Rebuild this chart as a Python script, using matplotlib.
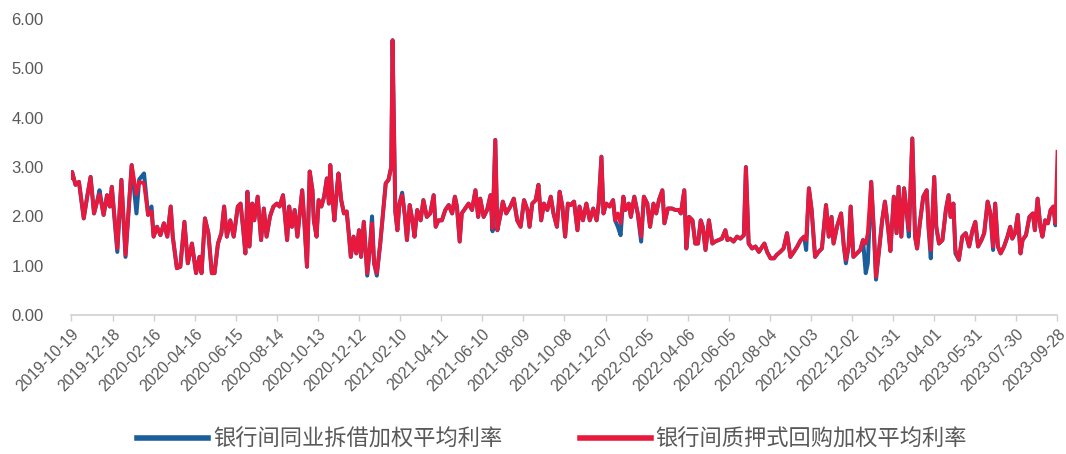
import numpy as np
import pandas as pd
import matplotlib
matplotlib.use("Agg")
import matplotlib.pyplot as plt
import matplotlib.dates as mdates

plt.rcParams['font.family'] = ['Liberation Sans', 'Noto Sans CJK SC', 'DejaVu Sans']

start_date = "2019-10-19"
end_date = "2023-09-28"

# days since start_date at turning points
day_offset = [
    0, 1, 6, 11, 18, 23, 28, 33, 38, 41,
    47, 52, 56, 59, 67, 73, 79, 88, 95, 99,
    106, 112, 117, 120, 125, 130, 135, 140, 145, 148,
    154, 159, 165, 170, 176, 182, 187, 190, 195, 200,
    205, 209, 214, 219, 223, 227, 232, 237, 243, 247,
    251, 254, 257, 260, 264, 267, 272, 277, 281, 285,
    290, 295, 300, 304, 309, 312, 315, 318, 322, 326,
    330, 333, 337, 340, 344, 348, 352, 354, 358, 361,
    365, 369, 373, 376, 378, 381, 384, 388, 390, 394,
    398, 402, 405, 408, 412, 416, 420, 423, 427, 432,
    436, 439, 442, 446, 451, 459, 463, 467, 469, 473,
    476, 479, 483, 487, 490, 494, 498, 501, 505, 510,
    514, 519, 524, 529, 532, 536, 541, 546, 551, 556,
    560, 563, 567, 570, 575, 580, 585, 590, 594, 597,
    602, 607, 612, 615, 619, 622, 627, 630, 635, 641,
    646, 651, 656, 661, 666, 669, 673, 678, 682, 686,
    690, 695, 700, 704, 709, 713, 717, 721, 725, 729,
    734, 739, 742, 747, 752, 757, 762, 767, 770, 774,
    777, 781, 786, 791, 794, 798, 802, 806, 809, 814,
    817, 822, 827, 832, 836, 841, 845, 850, 854, 858,
    863, 866, 871, 877, 882, 887, 890, 895, 898, 902,
    907, 911, 915, 919, 922, 926, 931, 936, 940, 945,
    950, 955, 958, 962, 967, 972, 977, 982, 985, 989,
    994, 999, 1004, 1009, 1012, 1016, 1021, 1026, 1030, 1035,
    1040, 1045, 1050, 1055, 1060, 1065, 1070, 1073, 1077, 1081,
    1086, 1091, 1096, 1102, 1106, 1110, 1113, 1118, 1124, 1128,
    1131, 1135, 1138, 1142, 1147, 1152, 1156, 1160, 1163, 1168,
    1172, 1175, 1180, 1184, 1188, 1193, 1196, 1201, 1205, 1208,
    1212, 1216, 1220, 1223, 1228, 1232, 1235, 1239, 1244, 1249,
    1252, 1255, 1260, 1263, 1267, 1272, 1277, 1281, 1284, 1288,
    1291, 1296, 1301, 1306, 1311, 1316, 1320, 1324, 1329, 1333,
    1338, 1342, 1346, 1349, 1353, 1357, 1362, 1367, 1371, 1374,
    1378, 1382, 1386, 1389, 1394, 1399, 1404, 1407, 1411, 1415,
    1418, 1422, 1426, 1430, 1434, 1437, 1440,
]

# 银行间质押式回购加权平均利率 (red)
repo_rate = [
    2.78, 2.90, 2.64, 2.70, 1.96, 2.40, 2.80, 2.06, 2.33, 2.45,
    2.03, 2.43, 2.20, 2.60, 1.35, 2.74, 1.22, 3.04, 2.45, 2.70,
    2.67, 2.03, 2.10, 1.59, 1.79, 1.62, 1.86, 1.59, 2.20, 1.59,
    0.95, 0.98, 1.89, 1.05, 1.45, 0.85, 1.18, 0.85, 1.96, 1.66,
    0.85, 0.85, 1.45, 1.66, 2.20, 1.59, 1.92, 1.59, 2.20, 2.26,
    1.72, 1.25, 2.50, 1.39, 2.26, 1.92, 2.40, 1.52, 2.16, 1.59,
    2.00, 2.20, 2.26, 2.20, 2.43, 1.99, 1.52, 2.20, 1.79, 2.13,
    1.59, 1.99, 2.53, 1.92, 0.98, 2.91, 2.53, 1.92, 1.59, 2.33,
    2.20, 2.40, 2.77, 2.26, 3.04, 2.40, 1.92, 2.60, 2.87, 2.33,
    2.06, 2.10, 1.66, 1.18, 1.59, 1.25, 1.72, 1.18, 1.89, 0.85,
    1.39, 1.86, 1.05, 0.85, 1.45, 2.67, 2.74, 3.00, 5.57, 2.10,
    1.72, 2.26, 2.43, 2.01, 1.52, 2.23, 1.92, 1.59, 2.13, 1.92,
    2.33, 1.99, 2.06, 2.43, 1.79, 1.92, 1.92, 2.13, 2.23, 2.06,
    2.40, 2.20, 1.49, 2.06, 2.16, 2.26, 2.13, 2.53, 1.99, 2.36,
    1.99, 2.13, 2.43, 1.76, 3.55, 1.72, 2.06, 2.30, 2.06, 2.20,
    2.36, 1.92, 1.79, 2.33, 2.13, 1.79, 2.26, 2.33, 2.64, 1.92,
    2.26, 2.13, 2.40, 2.06, 1.79, 2.50, 2.20, 1.59, 2.26, 2.23,
    2.30, 1.72, 2.20, 1.92, 2.26, 1.92, 2.16, 1.92, 2.26, 3.21,
    2.06, 2.26, 2.20, 2.33, 1.92, 2.06, 1.86, 2.40, 2.13, 2.26,
    1.99, 2.40, 2.06, 1.59, 2.40, 2.26, 1.79, 2.26, 2.06, 2.33,
    2.53, 1.86, 2.16, 2.16, 2.13, 2.13, 2.06, 2.53, 1.35, 1.99,
    1.92, 1.45, 1.45, 1.92, 1.79, 1.32, 1.92, 1.45, 1.49, 1.52,
    1.55, 1.72, 1.52, 1.55, 1.49, 1.59, 1.55, 1.62, 3.00, 1.45,
    1.35, 1.39, 1.28, 1.39, 1.45, 1.28, 1.15, 1.15, 1.22, 1.28,
    1.35, 1.66, 1.18, 1.28, 1.39, 1.52, 1.59, 1.52, 2.57, 2.13,
    1.18, 1.28, 1.35, 2.23, 1.59, 1.99, 1.45, 1.79, 2.06, 1.39,
    1.12, 1.39, 2.20, 1.18, 1.25, 1.32, 1.52, 1.45, 1.66, 2.70,
    1.66, 0.78, 1.39, 1.92, 2.30, 1.72, 1.30, 2.40, 1.66, 2.60,
    1.59, 2.57, 2.06, 1.72, 3.58, 1.59, 1.35, 1.86, 2.40, 2.53,
    1.72, 1.32, 2.80, 1.79, 1.45, 1.52, 2.13, 2.43, 1.99, 2.26,
    1.32, 1.12, 1.59, 1.66, 1.39, 1.72, 1.89, 1.39, 1.52, 1.66,
    2.30, 2.06, 1.39, 2.26, 1.39, 1.25, 1.39, 1.59, 1.79, 1.55,
    1.66, 2.03, 1.25, 1.52, 1.62, 1.99, 2.06, 1.72, 2.36, 1.79,
    1.59, 1.92, 1.86, 2.13, 2.20, 1.86, 3.31,
]

# 银行间同业拆借加权平均利率 (blue)
ibo_rate = [
    2.78, 2.90, 2.64, 2.70, 1.96, 2.40, 2.80, 2.06, 2.33, 2.53,
    2.03, 2.43, 2.20, 2.60, 1.28, 2.74, 1.18, 3.04, 2.06, 2.75,
    2.87, 2.03, 2.20, 1.59, 1.79, 1.62, 1.86, 1.59, 2.20, 1.59,
    0.95, 0.98, 1.89, 1.05, 1.45, 0.85, 1.18, 0.85, 1.96, 1.66,
    0.85, 0.85, 1.45, 1.66, 2.20, 1.59, 1.92, 1.59, 2.20, 2.26,
    1.72, 1.25, 2.50, 1.39, 2.26, 1.92, 2.40, 1.52, 2.16, 1.59,
    2.00, 2.20, 2.26, 2.20, 2.43, 1.99, 1.52, 2.20, 1.79, 2.13,
    1.59, 1.99, 2.53, 1.92, 0.98, 2.91, 2.53, 1.92, 1.59, 2.33,
    2.20, 2.40, 2.77, 2.26, 3.04, 2.40, 1.92, 2.60, 2.87, 2.33,
    2.06, 2.10, 1.66, 1.18, 1.59, 1.25, 1.72, 1.18, 1.89, 0.80,
    1.39, 2.00, 1.05, 0.80, 1.45, 2.67, 2.74, 3.00, 5.57, 2.10,
    1.72, 2.26, 2.48, 2.01, 1.52, 2.23, 1.92, 1.59, 2.13, 1.92,
    2.33, 1.99, 2.06, 2.43, 1.79, 1.92, 1.92, 2.13, 2.23, 2.06,
    2.40, 2.20, 1.49, 2.06, 2.16, 2.26, 2.13, 2.53, 1.99, 2.36,
    1.99, 2.13, 2.43, 1.70, 3.55, 1.72, 2.06, 2.30, 2.06, 2.20,
    2.36, 1.92, 1.79, 2.33, 2.13, 1.79, 2.26, 2.33, 2.64, 1.92,
    2.26, 2.13, 2.40, 2.06, 1.79, 2.50, 2.20, 1.59, 2.26, 2.23,
    2.30, 1.72, 2.20, 1.92, 2.26, 1.92, 2.16, 1.92, 2.26, 3.21,
    2.06, 2.26, 2.20, 2.33, 1.92, 1.79, 1.62, 2.40, 2.13, 2.26,
    1.99, 2.40, 2.06, 1.49, 2.40, 2.26, 1.79, 2.26, 2.06, 2.33,
    2.53, 1.86, 2.16, 2.16, 2.13, 2.13, 2.06, 2.53, 1.35, 1.99,
    1.92, 1.45, 1.45, 1.92, 1.79, 1.32, 1.92, 1.45, 1.49, 1.52,
    1.55, 1.72, 1.52, 1.55, 1.49, 1.59, 1.55, 1.62, 3.00, 1.45,
    1.35, 1.39, 1.28, 1.39, 1.45, 1.28, 1.15, 1.15, 1.22, 1.28,
    1.35, 1.66, 1.18, 1.28, 1.39, 1.52, 1.59, 1.32, 2.57, 2.13,
    1.18, 1.28, 1.35, 2.23, 1.59, 1.99, 1.45, 1.79, 2.06, 1.39,
    1.05, 1.39, 2.20, 1.18, 1.25, 1.32, 1.52, 0.85, 1.05, 2.70,
    1.66, 0.72, 1.39, 1.92, 2.30, 1.72, 1.30, 2.40, 1.66, 2.60,
    1.59, 2.57, 2.06, 1.59, 3.58, 1.59, 1.35, 1.86, 2.40, 2.53,
    1.72, 1.15, 2.80, 1.79, 1.45, 1.52, 2.13, 2.43, 1.99, 2.26,
    1.25, 1.12, 1.59, 1.66, 1.39, 1.72, 1.89, 1.39, 1.52, 1.66,
    2.30, 2.06, 1.32, 2.26, 1.39, 1.25, 1.39, 1.59, 1.79, 1.55,
    1.66, 2.03, 1.25, 1.52, 1.62, 1.99, 2.06, 1.72, 2.36, 1.79,
    1.59, 1.92, 1.86, 2.13, 2.20, 1.82, 1.98,
]

series_names = ["银行间同业拆借加权平均利率", "银行间质押式回购加权平均利率"]
series_colors = ["#1C5E9C", "#E8193C"]

assert len(day_offset) == len(repo_rate) == len(ibo_rate)

start = pd.Timestamp(start_date)
dates = start + pd.to_timedelta(day_offset, unit="D")
tick_dates = pd.date_range(start_date, end_date, freq="60D")

fig = plt.figure(figsize=(10.66, 4.54), dpi=100)
ax = fig.add_axes([0.067, 0.306, 0.925, 0.652])

ax.plot(dates, ibo_rate, color=series_colors[0], lw=2.9, label=series_names[0],
        solid_joinstyle="round")
ax.plot(dates, repo_rate, color=series_colors[1], lw=2.7, label=series_names[1],
        solid_joinstyle="round")

ax.set_ylim(0, 6)
ax.set_yticks(np.arange(0, 6.01, 1))
ax.set_yticklabels([f"{v:.2f}" for v in np.arange(0, 6.01, 1)])
ax.set_xlim(tick_dates[0], tick_dates[-1])
ax.set_xticks(tick_dates)
ax.xaxis.set_major_formatter(mdates.DateFormatter("%Y-%m-%d"))

for lbl in ax.get_xticklabels():
    lbl.set_rotation(45)
    lbl.set_ha("right")
    lbl.set_rotation_mode("anchor")

ax.tick_params(axis="y", length=0, pad=20, labelsize=12, labelcolor="#595959")
ax.tick_params(axis="x", length=4, width=1, color="#D0D0D0", pad=4,
               labelsize=11.3, labelcolor="#595959")

for side in ["top", "right", "left"]:
    ax.spines[side].set_visible(False)
ax.spines["bottom"].set_color("#D0D0D0")
ax.spines["bottom"].set_linewidth(1.2)

leg = fig.legend(loc="center", bbox_to_anchor=(0.518, 0.033), ncol=2, frameon=False,
                 handlelength=3.2, handletextpad=0.2, columnspacing=3.5,
                 prop={"family": ["Noto Sans CJK SC", "DejaVu Sans"], "size": 16})
for line in leg.get_lines():
    line.set_linewidth(4)
for txt in leg.get_texts():
    txt.set_color("#595959")

fig.savefig("out.png", dpi=100)
